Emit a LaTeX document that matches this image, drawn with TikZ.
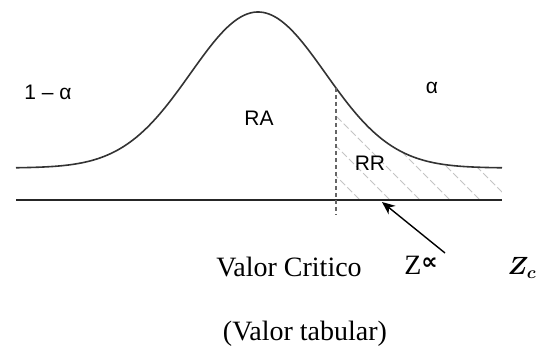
\documentclass[tikz,border=0pt]{standalone}
\usepackage{amsmath}
\usepackage{fontspec}
\setmainfont{Liberation Serif}
\setsansfont{Liberation Sans}
\newfontfamily\symfont{DejaVu Sans}
\usetikzlibrary{arrows.meta, positioning}
\definecolor{hatchgray}{HTML}{C4C4C4}
\tikzset{
    sanslabel/.style={font=\sffamily\fontsize{21}{24}\selectfont, inner sep=0pt},
    seriflabel/.style={font=\fontsize{28}{32}\selectfont, inner sep=0pt},
    curveline/.style={line width=1.6pt, draw=black!80},
    axisline/.style={line width=1.8pt, draw=black!85},
    critline/.style={dash pattern=on 4pt off 3pt, line width=1.2pt, draw=black!60},
    hatchline/.style={draw=hatchgray, line width=1pt, dash pattern=on 7pt off 3pt},
    arrow/.style={-{Stealth[length=13pt, width=11pt]}, line width=1.4pt}
}
\begin{document}
\begin{tikzpicture}[x=1pt, y=-1pt]
    \useasboundingbox (0,0) rectangle (558,358);
    % hatched rejection region
    \begin{scope}
        \clip (336,200) -- plot[domain=336:502, samples=60] (\x, {168-156*exp(-((\x-258)/67.5)^2/2)}) -- (502,200) -- cycle;
        \foreach \i in {190,220,...,520}
            \draw[hatchline] (\i,60) -- ++(170,170);
    \end{scope}
    \draw[curveline] plot[domain=16:502, samples=150, smooth] (\x, {168-156*exp(-((\x-258)/67.5)^2/2)});
    \draw[axisline] (16,200) -- (502,200);
    \draw[critline] (336,88) -- (336,215);
    \coordinate (zcrit) at (382,202);
    \node[sanslabel] (oneminus) at (48,92) {1 – α};
    \node[sanslabel] (alpha) at (432,88) {α};
    \node[sanslabel] (ra) at (259,118) {RA};
    \node[sanslabel] (rr) at (370,163) {RR};
    \node[seriflabel] (crit) at (289,267) {Valor Critico};
    \node[seriflabel] (zalpha) at (421,265) {Z\raisebox{5pt}{\symfont\bfseries\fontsize{23}{23}\selectfont ∝}};
    \node[font=\fontsize{24}{28}\selectfont, inner sep=0pt] (zc) at (522,268) {$\boldsymbol{Z_c}$};
    \node[seriflabel] (tab) at (305,334) {(Valor tabular)};
    \coordinate (ztail) at (445,253);
    \draw[arrow] (ztail) -- (zcrit);
\end{tikzpicture}
\end{document}
